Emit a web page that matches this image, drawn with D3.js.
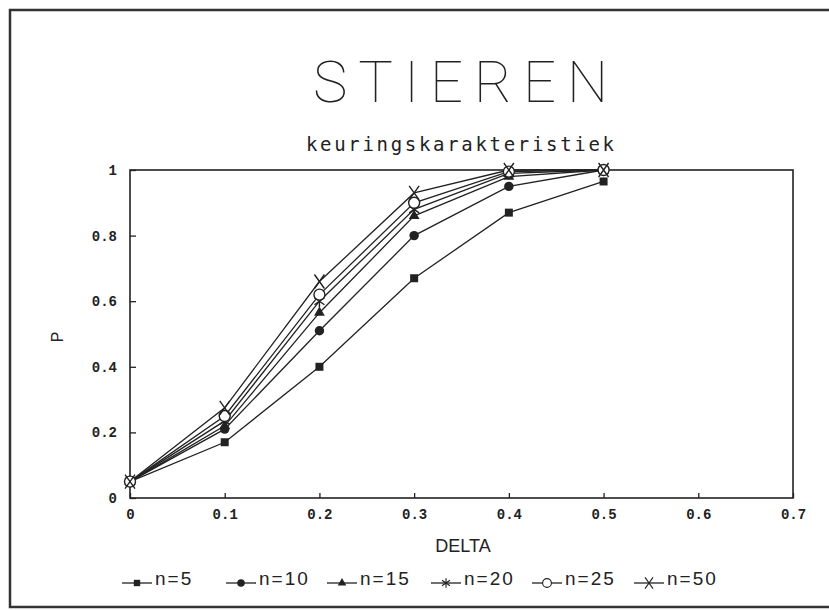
<!DOCTYPE html>
<html>
<head>
<meta charset="utf-8">
<script src="https://cdn.jsdelivr.net/npm/d3@7"></script>
<style>
  body { margin: 0; background: #fff; }
</style>
</head>
<body>
<div id="main"></div>
<script>
// data
var delta = [0, 0.1, 0.2, 0.3, 0.4, 0.5];
var n5  = [0.05, 0.17, 0.40, 0.67, 0.87, 0.965];
var n10 = [0.05, 0.21, 0.51, 0.80, 0.95, 1.0];
var n15 = [0.05, 0.22, 0.565, 0.86, 0.98, 1.0];
var n20 = [0.05, 0.235, 0.60, 0.88, 0.99, 1.0];
var n25 = [0.05, 0.25, 0.62, 0.90, 0.995, 1.0];
var n50 = [0.05, 0.275, 0.66, 0.93, 1.0, 1.0];
var seriesNames = ["n=5", "n=10", "n=15", "n=20", "n=25", "n=50"];
var seriesMarks = ["square", "dot", "triangle", "star", "ring", "cross"];
var xTicks = [0, 0.1, 0.2, 0.3, 0.4, 0.5, 0.6, 0.7];
var yTicks = [0, 0.2, 0.4, 0.6, 0.8, 1];

var series = [n5, n10, n15, n20, n25, n50].map(function(v, i) {
  return { name: seriesNames[i], mark: seriesMarks[i], values: v };
});

var svg = d3.select("#main").append("svg")
    .attr("width", 829)
    .attr("height", 611);

var ink = "#222";

// outer frame (left, top, bottom; right edge is cut off)
svg.append("path")
    .attr("d", "M829,10 L10,10 L10,607 L829,607")
    .attr("fill", "none")
    .attr("stroke", "#333")
    .attr("stroke-width", 2.5);

// titles
svg.append("text")
    .attr("x", 313).attr("y", 102)
    .attr("textLength", 295).attr("lengthAdjust", "spacing")
    .style("font-family", "Roboto, 'DejaVu Sans'")
    .style("font-weight", 100)
    .style("font-size", "58px")
    .attr("fill", ink)
    .text("STIEREN");

svg.append("text")
    .attr("x", 306).attr("y", 151)
    .attr("textLength", 308).attr("lengthAdjust", "spacing")
    .style("font-family", "'DejaVu Sans Mono', monospace")
    .style("font-size", "19px")
    .attr("fill", ink)
    .text("keuringskarakteristiek");

var plotLeft = 130, plotRight = 793, plotTop = 170, plotBottom = 498;

var x = d3.scaleLinear().domain([0, 0.7]).range([plotLeft, plotRight]);
var y = d3.scaleLinear().domain([0, 1]).range([plotBottom, plotTop]);

var tickFont = "'Liberation Mono', 'DejaVu Sans Mono', monospace";

var xAxis = svg.append("g")
    .attr("transform", "translate(0," + plotBottom + ")")
    .call(d3.axisBottom(x).tickValues(xTicks).tickSizeInner(-5).tickSizeOuter(0).tickPadding(11)
      .tickFormat(function(d) { return String(d); }));
var yAxis = svg.append("g")
    .attr("transform", "translate(" + plotLeft + ",0)")
    .call(d3.axisLeft(y).tickValues(yTicks).tickSizeInner(-6).tickSizeOuter(0).tickPadding(13)
      .tickFormat(function(d) { return String(d); }));

[xAxis, yAxis].forEach(function(a) {
  a.select(".domain").remove();
  a.selectAll(".tick line").attr("stroke", ink).attr("stroke-width", 1.3);
  a.selectAll(".tick text")
    .attr("fill", ink)
    .style("font-family", tickFont)
    .style("font-weight", "bold")
    .style("font-size", "14px");
});

// plot frame
svg.append("rect")
    .attr("x", plotLeft).attr("y", plotTop)
    .attr("width", plotRight - plotLeft).attr("height", plotBottom - plotTop)
    .attr("fill", "none")
    .attr("stroke", ink)
    .attr("stroke-width", 1.6);

// axis titles
svg.append("text")
    .attr("x", 463).attr("y", 552)
    .attr("text-anchor", "middle")
    .style("font-family", "'Liberation Sans', Arial")
    .style("font-size", "18px")
    .attr("fill", ink)
    .text("DELTA");

svg.append("text")
    .attr("transform", "translate(63,337) rotate(-90)")
    .attr("text-anchor", "middle")
    .style("font-family", "'Liberation Sans', Arial")
    .style("font-size", "16px")
    .attr("fill", ink)
    .text("P");

// markers
function drawMark(g, kind) {
  if (kind === "square") {
    g.append("path").attr("d", d3.symbol(d3.symbolSquare, 64)()).attr("fill", ink);
  } else if (kind === "dot") {
    g.append("path").attr("d", d3.symbol(d3.symbolCircle, 70)()).attr("fill", ink);
  } else if (kind === "triangle") {
    g.append("path").attr("d", d3.symbol(d3.symbolTriangle, 50)()).attr("fill", ink);
  } else if (kind === "star") {
    g.append("path").attr("d", "M0,-6L0,6M-5,-3.5L5,3.5M-5,3.5L5,-3.5")
      .attr("stroke", ink).attr("stroke-width", 1.4).attr("fill", "none");
  } else if (kind === "ring") {
    g.append("circle").attr("r", 5.5)
      .attr("fill", "#fff").attr("stroke", ink).attr("stroke-width", 1.4);
  } else if (kind === "cross") {
    g.append("path").attr("d", "M-5,-7L5,7M5,-7L-5,7")
      .attr("stroke", ink).attr("stroke-width", 1.4).attr("fill", "none");
  }
}

var line = d3.line()
    .x(function(d, i) { return x(delta[i]); })
    .y(function(d) { return y(d); });

series.forEach(function(s) {
  svg.append("path")
      .attr("d", line(s.values))
      .attr("fill", "none")
      .attr("stroke", ink)
      .attr("stroke-width", 1.3);
});

series.forEach(function(s) {
  s.values.forEach(function(v, i) {
    var g = svg.append("g").attr("transform", "translate(" + x(delta[i]) + "," + y(v) + ")");
    drawMark(g, s.mark);
  });
});

// legend
var legendX = [122, 226, 327, 431, 532, 634];
series.forEach(function(s, i) {
  var g = svg.append("g").attr("transform", "translate(" + legendX[i] + ",583)");
  g.append("line").attr("x1", 0).attr("x2", 30).attr("y1", 0).attr("y2", 0)
      .attr("stroke", ink).attr("stroke-width", 1.3);
  var m = g.append("g").attr("transform", "translate(15,0) scale(0.8)");
  drawMark(m, s.mark);
  g.append("text")
      .attr("x", 33).attr("y", 2)
      .style("font-family", "'Liberation Sans', Arial")
      .style("font-size", "19px")
      .style("letter-spacing", "2px")
      .attr("fill", ink)
      .text(s.name);
});
</script>
</body>
</html>
